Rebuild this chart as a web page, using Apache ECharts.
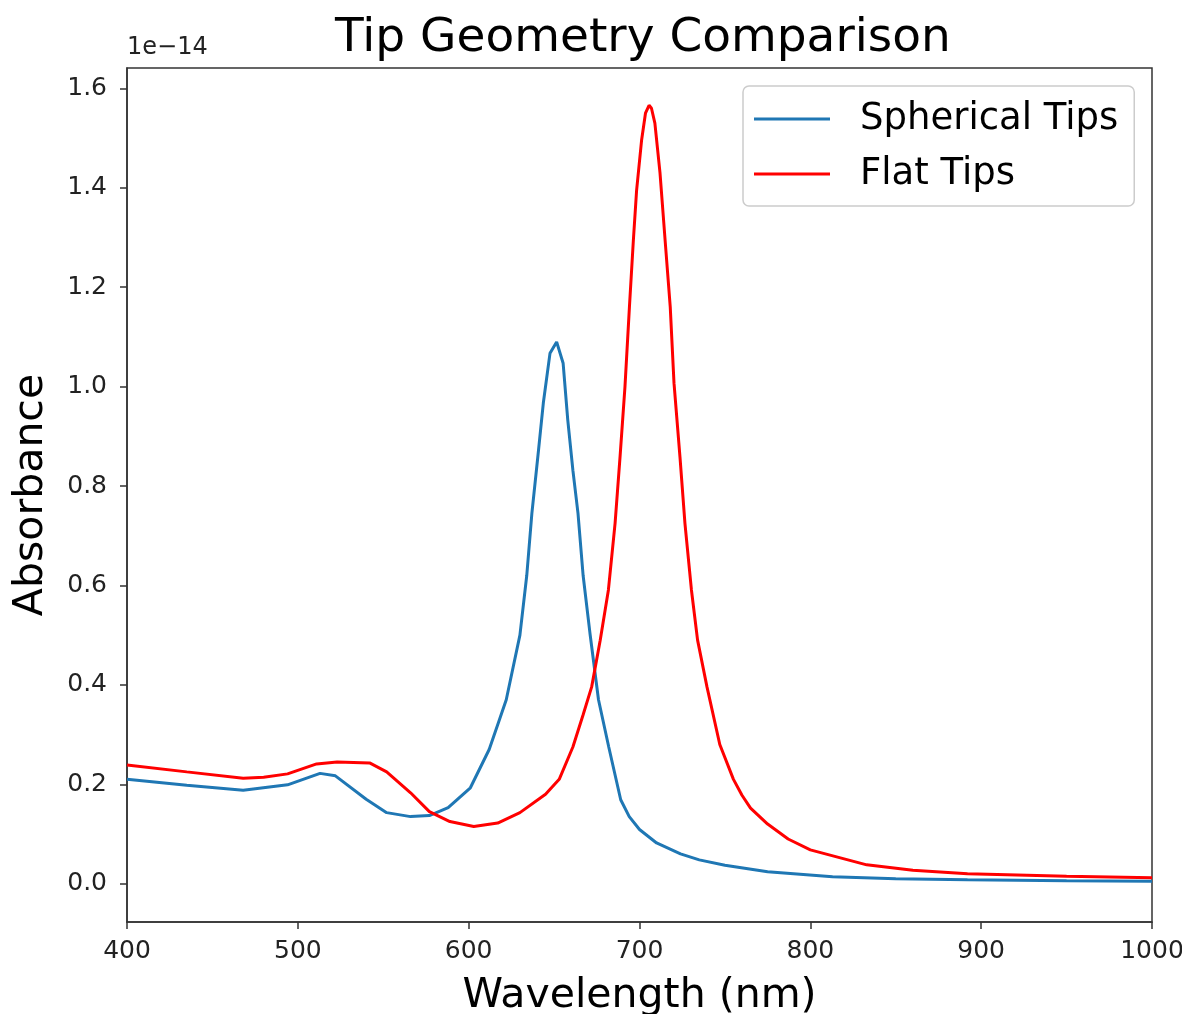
<!DOCTYPE html>
<html>
<head>
<meta charset="utf-8">
<script src="https://cdn.jsdelivr.net/npm/echarts@6/dist/echarts.min.js"></script>
<style>html,body{margin:0;padding:0;background:#fff;}#c{width:1182px;height:1014px;}</style>
</head>
<body>
<div id="c"></div>
<script>
// Wavelength (nm) and absorbance (x 1e-14)
const sphericalWl = [400,435,468,494,513,522,540,552,566,577,588,601,612,618,622,630,634,637,640.7,643.7,647.6,651.5,655.3,658,661,664,667,671,676,682,689,694,700,710,724,735,750,775,813,850,892,950,1000];
const sphericalAbs = [0.210,0.198,0.188,0.199,0.222,0.217,0.170,0.143,0.135,0.137,0.153,0.193,0.270,0.330,0.370,0.500,0.620,0.745,0.866,0.967,1.067,1.090,1.047,0.933,0.832,0.745,0.620,0.504,0.370,0.275,0.169,0.135,0.109,0.082,0.060,0.048,0.037,0.024,0.014,0.010,0.008,0.006,0.005];

const flatWl = [400,435,468,480,494,511,523,542,552,566,577,589,603,617,630,645,653,661,667,672,677,681.8,685.7,688.6,691.5,694.1,696.4,698.3,701.2,703.5,705.6,707,709,712,715,718,720.2,723.7,726.6,730.4,734,739.5,747,755,760,765,775,787,800,833,860,892,950,1000];
const flatAbs = [0.239,0.225,0.212,0.214,0.221,0.241,0.245,0.243,0.225,0.183,0.145,0.125,0.115,0.122,0.143,0.180,0.210,0.275,0.340,0.396,0.490,0.591,0.725,0.858,1.000,1.160,1.294,1.395,1.495,1.550,1.566,1.560,1.530,1.430,1.294,1.160,1.007,0.858,0.725,0.591,0.490,0.396,0.280,0.210,0.178,0.152,0.120,0.090,0.068,0.038,0.027,0.020,0.015,0.012];

const yTicks = [0.0,0.2,0.4,0.6,0.8,1.0,1.2,1.4,1.6];
const xTicks = [400,500,600,700,800,900,1000];
const seriesNames = ['Spherical Tips','Flat Tips'];

const F = 'DejaVu Sans';
const chart = echarts.init(document.getElementById('c'), null, {renderer:'canvas'});
const pair = (xs, ys) => xs.map((x,i)=>[x, ys[i]]);

chart.setOption({
  backgroundColor:'#fff',
  animation:false,
  title:{text:'Tip Geometry Comparison', left:330, top:10,
    textStyle:{fontFamily:F, fontSize:47, fontWeight:'normal', color:'#000'}},
  grid:{left:127, right:30, top:68, bottom:92, show:true, borderColor:'#333', borderWidth:1.5,
    backgroundColor:'transparent', containLabel:false, outerBoundsMode:'none'},
  legend:{left:743, top:86, orient:'vertical', data:seriesNames,
    icon:'rect', itemWidth:76, itemHeight:3, itemGap:15,
    padding:[13,16,12,11], borderColor:'#ccc', borderWidth:1.5, borderRadius:6,
    backgroundColor:'rgba(255,255,255,0.8)',
    textStyle:{fontFamily:F, fontSize:37, color:'#000', lineHeight:40, padding:[0,0,0,25]}},
  xAxis:{type:'value', min:400, max:1000, interval:100,
    name:'Wavelength (nm)', nameLocation:'middle', nameGap:54,
    nameTextStyle:{fontFamily:F, fontSize:41, color:'#000'},
    axisLine:{show:true, onZero:false, lineStyle:{color:'#333', width:1.5}},
    axisTick:{show:true, inside:false, length:7, lineStyle:{color:'#333', width:1.5}},
    axisLabel:{fontFamily:F, fontSize:25, color:'#222', margin:17,
      customValues:xTicks, formatter:v=>String(v)},
    splitLine:{show:false}},
  yAxis:{type:'value', min:-0.077, max:1.641,
    name:'Absorbance', nameLocation:'middle', nameGap:75, nameRotate:90,
    nameTextStyle:{fontFamily:F, fontSize:41, color:'#000'},
    axisLine:{show:true, onZero:false, lineStyle:{color:'#333', width:1.5}},
    axisTick:{show:true, length:7, lineStyle:{color:'#333', width:1.5}, customValues:yTicks},
    axisLabel:{fontFamily:F, fontSize:25, color:'#222', margin:20,
      customValues:yTicks, formatter:v=>v.toFixed(1)},
    splitLine:{show:false}},
  graphic:[{type:'text', left:127, top:36,
    style:{text:'1e\u221214', fontFamily:F, fontSize:24, fill:'#222'}}],
  series:[
    {name:seriesNames[0], type:'line', data:pair(sphericalWl, sphericalAbs), showSymbol:false, smooth:false,
     lineStyle:{color:'#1f77b4', width:3}, itemStyle:{color:'#1f77b4'}},
    {name:seriesNames[1], type:'line', data:pair(flatWl, flatAbs), showSymbol:false, smooth:false,
     lineStyle:{color:'#ff0000', width:3}, itemStyle:{color:'#ff0000'}}
  ]
});
</script>
</body>
</html>
